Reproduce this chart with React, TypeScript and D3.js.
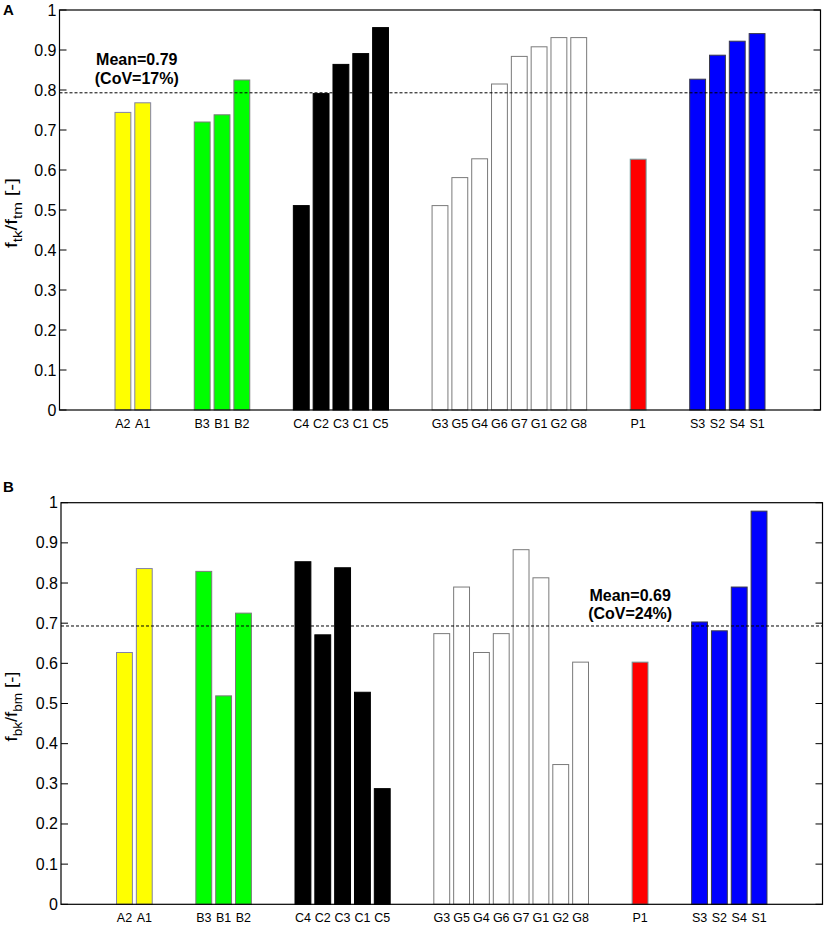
import * as d3 from 'd3';

// specimen labels, in plotting order
const categories = [
  'A2', 'A1',
  'B3', 'B1', 'B2',
  'C4', 'C2', 'C3', 'C1', 'C5',
  'G3', 'G5', 'G4', 'G6', 'G7', 'G1', 'G2', 'G8',
  'P1',
  'S3', 'S2', 'S4', 'S1',
];
const groups = categories.map(c => c[0]);

// panel A: f_tk / f_tm
const tensileRatio = [
  0.744, 0.768,
  0.72, 0.738, 0.825,
  0.511, 0.791, 0.864, 0.891, 0.956,
  0.511, 0.581, 0.628, 0.815, 0.884, 0.908, 0.931, 0.931,
  0.627,
  0.827, 0.887, 0.922, 0.941,
];

// panel B: f_bk / f_bm
const bendingRatio = [
  0.627, 0.836,
  0.829, 0.519, 0.725,
  0.853, 0.671, 0.838, 0.528, 0.288,
  0.674, 0.79, 0.627, 0.674, 0.883, 0.813, 0.348, 0.603,
  0.603,
  0.703, 0.681, 0.79, 0.979,
];

const yTicks = [0, 0.1, 0.2, 0.3, 0.4, 0.5, 0.6, 0.7, 0.8, 0.9, 1];

const groupFill: Record<string, string> = {
  A: '#ffff00', B: '#00ff00', C: '#000000', G: '#ffffff', P: '#ff0000', S: '#0000ff',
};
const groupStroke: Record<string, string> = {
  A: '#8282a8', B: '#7a7a7a', C: '#000000', G: '#7a7a7a', P: '#6c9c9c', S: '#3a3a4a',
};

const font = "'Liberation Sans', Arial, Helvetica, sans-serif";

// slot position of each bar: two empty slots between groups
const slots: number[] = [];
categories.forEach((c, i) => {
  if (i === 0) slots.push(0);
  else slots.push(slots[i - 1] + (groups[i] !== groups[i - 1] ? 3 : 1));
});

interface PanelProps {
  letter: string;
  letterY: number;
  values: number[];
  mean: number;
  meanText: string[];
  meanLabelX: number;
  meanLabelY: number[];
  yLabel: [string, string, string, string];
  box: { left: number; right: number; top: number; bottom: number };
}

function Panel({ letter, letterY, values, mean, meanText, meanLabelX, meanLabelY, yLabel, box }: PanelProps) {
  const x = d3.scaleLinear().domain([-3.2, 35.2]).range([box.left, box.right]);
  const y = d3.scaleLinear().domain([0, 1]).range([box.bottom, box.top]);
  const barW = 0.8 * (x(1) - x(0));
  const midY = (box.top + box.bottom) / 2;

  return (
    <g fontFamily={font}>
      <text x={3} y={letterY} fontSize={15} fontWeight="bold">{letter}</text>

      {/* Bars */}
      {values.map((v, i) => (
        <rect
          key={i}
          x={x(slots[i]) - barW / 2}
          y={y(v)}
          width={barW}
          height={y(0) - y(v)}
          fill={groupFill[groups[i]]}
          stroke={groupStroke[groups[i]]}
          strokeWidth={1}
        />
      ))}

      {/* Mean line */}
      <line x1={box.left} x2={box.right} y1={y(mean)} y2={y(mean)}
        stroke="#000" strokeWidth={1} strokeDasharray="3,2" />
      {meanText.map((t, i) => (
        <text key={i} x={x(meanLabelX)} y={y(meanLabelY[i])} textAnchor="middle"
          fontSize={16} fontWeight="bold">{t}</text>
      ))}

      {/* Frame */}
      <rect x={box.left} y={box.top} width={box.right - box.left} height={box.bottom - box.top}
        fill="none" stroke="#000" strokeWidth={1.2} />

      {/* Y ticks, both sides inward */}
      {yTicks.map((t, i) => (
        <g key={i}>
          <line x1={box.left} x2={box.left + 7} y1={y(t)} y2={y(t)} stroke="#000" />
          <line x1={box.right - 7} x2={box.right} y1={y(t)} y2={y(t)} stroke="#000" />
          <text x={box.left - 3} y={y(t)} textAnchor="end" dominantBaseline="central" fontSize={16}>
            {t}
          </text>
        </g>
      ))}

      {/* X labels */}
      {categories.map((c, i) => (
        <text key={i} x={x(slots[i])} y={box.bottom + 18} textAnchor="middle" fontSize={12.5}>{c}</text>
      ))}

      {/* Y label */}
      <text transform={`translate(17,${midY + 3}) rotate(-90)`} textAnchor="middle" fontSize={17}
        textLength={70} lengthAdjust="spacingAndGlyphs">
        {yLabel[0]}
        <tspan fontSize={12.5} dy={5}>{yLabel[1]}</tspan>
        <tspan dy={-5}>{yLabel[2]}</tspan>
        <tspan fontSize={12.5} dy={5}>{yLabel[3]}</tspan>
        <tspan dy={-5}> [-]</tspan>
      </text>
    </g>
  );
}

export default function App() {
  return (
    <svg width={829} height={930} style={{ position: 'absolute', left: 0, top: 0, background: '#fff' }}>
      <Panel
        letter="A"
        letterY={15}
        values={tensileRatio}
        mean={0.793}
        meanText={['Mean=0.79', '(CoV=17%)']}
        meanLabelX={0.7}
        meanLabelY={[0.863, 0.816]}
        yLabel={['f', 'tk', '/f', 'tm']}
        box={{ left: 59.5, right: 820.5, top: 10, bottom: 410 }}
      />
      <Panel
        letter="B"
        letterY={491.5}
        values={bendingRatio}
        mean={0.693}
        meanText={['Mean=0.69', '(CoV=24%)']}
        meanLabelX={25.5}
        meanLabelY={[0.755, 0.71]}
        yLabel={['f', 'bk', '/f', 'bm']}
        box={{ left: 61, right: 822.5, top: 502.7, bottom: 904.3 }}
      />
    </svg>
  );
}
